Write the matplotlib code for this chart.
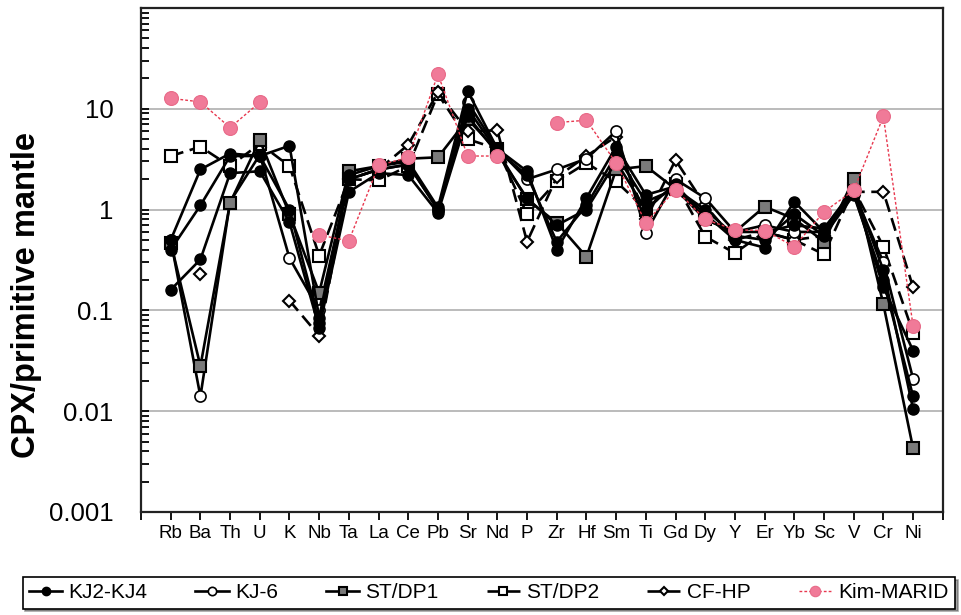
import matplotlib.pyplot as plt
import numpy as np

plt.rcParams['font.family'] = ['Liberation Sans Narrow', 'Liberation Sans', 'DejaVu Sans']

nan = np.nan
elements = ['Rb', 'Ba', 'Th', 'U', 'K', 'Nb', 'Ta', 'La', 'Ce', 'Pb', 'Sr', 'Nd', 'P',
            'Zr', 'Hf', 'Sm', 'Ti', 'Gd', 'Dy', 'Y', 'Er', 'Yb', 'Sc', 'V', 'Cr', 'Ni']

# CPX / primitive mantle
kj2 = [0.5, 2.5, 3.6, 3.4, 4.3, 0.085, 2.2, 2.7, 3.0, 1.05, 15, 4.0, 2.4,
       0.4, 1.3, 4.2, 1.4, 1.7, 0.9, 0.5, 0.42, 1.2, 0.6, 1.5, 0.17, 0.04]
kj3 = [0.4, 1.1, 3.4, 3.4, 1.0, 0.075, 2.0, 2.5, 2.8, 1.0, 10, 3.8, 2.2,
       0.48, 1.1, 3.5, 1.2, 1.6, 1.0, 0.55, 0.5, 0.9, 0.55, 1.4, 0.2, 0.014]
kj4 = [0.16, 0.32, 2.3, 2.4, 0.75, 0.067, 1.5, 2.3, 2.2, 0.93, 8.5, 3.6, 1.3,
       0.7, 1.0, 3.0, 1.0, 1.8, 0.8, 0.6, 0.6, 0.7, 0.65, 1.6, 0.25, 0.0105]
kj6 = [0.5, 0.014, 1.2, 3.5, 0.33, 0.1, 2.0, 2.5, 2.8, 1.0, 11.6, 4.0, 2.0,
       2.5, 3.2, 6.0, 0.59, 2.0, 1.3, 0.6, 0.7, 0.6, 0.6, 1.5, 0.3, 0.021]
stdp1 = [0.47, 0.028, 1.17, 4.9, 0.9, 0.15, 2.4, 2.7, 3.2, 3.3, 7.9, 3.8, 1.26,
         0.74, 0.34, 2.5, 2.7, 1.6, 0.8, 0.6, 1.07, 0.81, 0.48, 2.0, 0.115, 0.0043]
stdp2 = [3.4, 4.2, 2.7, 4.5, 2.7, 0.35, 2.0, 1.95, 2.7, 14, 5.0, 4.0, 0.9,
         1.9, 2.9, 1.9, 1.0, 1.8, 0.54, 0.37, 0.6, 0.5, 0.36, 1.6, 0.43, 0.06]
cfhp = [nan, 0.23, nan, nan, 0.125, 0.056, 2.0, 2.5, 4.4, 14.6, 6.0, 6.1, 0.48,
        2.1, 3.4, 5.3, 0.8, 3.1, 1.1, 0.5, 0.6, 0.5, 0.55, 1.5, 1.5, 0.17]
marid = [12.7, 11.7, 6.5, 11.6, nan, 0.56, 0.49, 2.74, 3.3, 22, 3.4, 3.4, nan,
         7.3, 7.7, 2.9, 0.74, 1.58, 0.8, 0.63, 0.62, 0.43, 0.95, 1.55, 8.4, 0.07]

x = np.arange(1, len(elements) + 1)

fig = plt.figure(figsize=(9.62, 6.15), dpi=100)
ax = fig.add_axes([0.1466, 0.1675, 0.8334, 0.8195])

ax.set_yscale('log')
ax.set_ylim(0.001, 100)
ax.set_xlim(0, len(elements) + 1)
ax.yaxis.grid(True, which='major', color='#b5b5b5', lw=1.3)
ax.set_axisbelow(True)

lw = 1.9
ms = 8
ax.plot(x, stdp2, ls=(0, (5, 2.5)), color='black', lw=lw, marker='s', ms=ms,
        mfc='white', mec='black', mew=1.5, label='ST/DP2')
ax.plot(x, cfhp, ls=(0, (5, 2.5)), color='black', lw=lw, marker='D', ms=6,
        mfc='white', mec='black', mew=1.5, label='CF-HP')
ax.plot(x, kj6, '-', color='black', lw=lw, marker='o', ms=ms,
        mfc='white', mec='black', mew=1.2, label='KJ-6')
ax.plot(x, stdp1, '-', color='black', lw=lw, marker='s', ms=ms,
        mfc='#7a7a7a', mec='black', mew=1.5, label='ST/DP1')
for i, s in enumerate([kj2, kj3, kj4]):
    ax.plot(x, s, '-', color='black', lw=lw, marker='o', ms=ms,
            mfc='black', mec='black', label='KJ2-KJ4' if i == 0 else '_nolegend_')
ax.plot(x, marid, ls=(0, (2, 1.5)), color='#e8384f', lw=1.0, marker='o', ms=10,
        mfc='#f07a98', mec='#e86a88', mew=0.8, label='Kim-MARID')

ax.set_xticks(x)
ax.set_xticklabels(elements, fontsize=13.5)
ax.set_xticks([0, len(elements) + 1], minor=True)
ax.tick_params(axis='x', which='both', direction='out', length=6, width=1.3)
ax.set_yticks([0.001, 0.01, 0.1, 1, 10])
ax.set_yticklabels(['0.001', '0.01', '0.1', '1', '10'], fontsize=18.5)
ax.tick_params(axis='y', which='both', direction='in', length=6, width=1.3, pad=20)
ax.set_ylabel('CPX/primitive mantle', fontsize=23.5, fontweight='bold',
              family=['Liberation Sans', 'DejaVu Sans'])
ax.yaxis.set_label_coords(-0.124, 0.43)
for sp in ax.spines.values():
    sp.set_linewidth(1.6)
    sp.set_color('#222222')

h, l = ax.get_legend_handles_labels()
order = ['KJ2-KJ4', 'KJ-6', 'ST/DP1', 'ST/DP2', 'CF-HP', 'Kim-MARID']
hd = dict(zip(l, h))
leg = fig.legend([hd[k] for k in order], order, loc='center', ncol=6,
                 bbox_to_anchor=(0.508, 0.036), fontsize=15, frameon=True,
                 fancybox=False, shadow=True, edgecolor='black',
                 handlelength=1.6, handletextpad=0.3, columnspacing=2.3,
                 borderpad=0.3, markerscale=0.75)
leg.get_frame().set_linewidth(1.2)

fig.savefig('out.png', dpi=100)
